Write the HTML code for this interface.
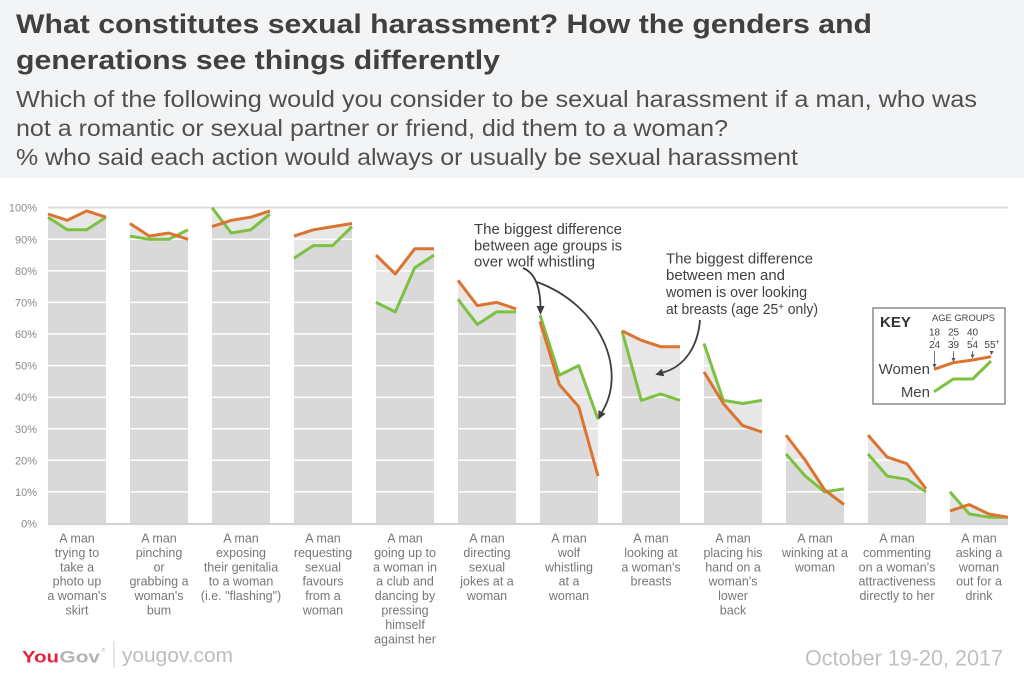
<!DOCTYPE html>
<html>
<head>
<meta charset="utf-8">
<style>
  html, body { margin:0; padding:0; background:#ffffff; }
  body { width:1024px; height:675px; overflow:hidden; }
  svg { display:block; }
  text { font-family: "Liberation Sans", sans-serif; }
</style>
</head>
<body>
<svg width="1024" height="675" viewBox="0 0 1024 675" xmlns="http://www.w3.org/2000/svg">
  <!-- header -->
  <rect x="0" y="0" width="1024" height="178" fill="#f3f4f6"/>
  <text x="16" y="33" font-size="27" font-weight="bold" fill="#404040" textLength="856" lengthAdjust="spacingAndGlyphs">What constitutes sexual harassment? How the genders and</text>
  <text x="16" y="69" font-size="27" font-weight="bold" fill="#404040" textLength="484" lengthAdjust="spacingAndGlyphs">generations see things differently</text>
  <text x="16" y="107" font-size="23" fill="#505050" textLength="961" lengthAdjust="spacingAndGlyphs">Which of the following would you consider to be sexual harassment if a man, who was</text>
  <text x="16" y="136" font-size="23" fill="#505050" textLength="712" lengthAdjust="spacingAndGlyphs">not a romantic or sexual partner or friend, did them to a woman?</text>
  <text x="16" y="165" font-size="23" fill="#505050" textLength="782" lengthAdjust="spacingAndGlyphs">% who said each action would always or usually be sexual harassment</text>

  <defs>
    <clipPath id="cg0"><polygon points="48,217.2 67.3,229.8 86.7,229.8 106,217.2 106,523.5 48,523.5"/></clipPath>
    <clipPath id="cg1"><polygon points="130,236.1 149.3,239.3 168.7,239.3 188,229.8 188,523.5 130,523.5"/></clipPath>
    <clipPath id="cg2"><polygon points="212,207.7 231.3,233.0 250.7,229.8 270,214.0 270,523.5 212,523.5"/></clipPath>
    <clipPath id="cg3"><polygon points="294,258.2 313.3,245.6 332.7,245.6 352,226.6 352,523.5 294,523.5"/></clipPath>
    <clipPath id="cg4"><polygon points="376,302.4 395.3,311.9 414.7,267.7 434,255.1 434,523.5 376,523.5"/></clipPath>
    <clipPath id="cg5"><polygon points="458,299.3 477.3,324.5 496.7,311.9 516,311.9 516,523.5 458,523.5"/></clipPath>
    <clipPath id="cg6"><polygon points="540,315.1 559.3,375.1 578.7,365.6 598,419.3 598,523.5 540,523.5"/></clipPath>
    <clipPath id="cg7"><polygon points="622,330.9 641.3,400.3 660.7,394.0 680,400.3 680,523.5 622,523.5"/></clipPath>
    <clipPath id="cg8"><polygon points="704,343.5 723.3,400.3 742.7,403.5 762,400.3 762,523.5 704,523.5"/></clipPath>
    <clipPath id="cg9"><polygon points="786,454.0 805.3,476.1 824.7,491.9 844,488.8 844,523.5 786,523.5"/></clipPath>
    <clipPath id="cg10"><polygon points="868,454.0 887.3,476.1 906.7,479.3 926,491.9 926,523.5 868,523.5"/></clipPath>
    <clipPath id="cg11"><polygon points="950,491.9 969.3,514.0 988.7,517.2 1008,517.2 1008,523.5 950,523.5"/></clipPath>
  </defs>

  <!-- bars: light = union, dark = intersection -->
  <g fill="#e7e7e7">
    <polygon points="48,214.0 67.3,220.3 86.7,210.9 106,217.2 106,523.5 48,523.5"/>
    <polygon points="48,217.2 67.3,229.8 86.7,229.8 106,217.2 106,523.5 48,523.5"/>
    <polygon points="130,223.5 149.3,236.1 168.7,233.0 188,239.3 188,523.5 130,523.5"/>
    <polygon points="130,236.1 149.3,239.3 168.7,239.3 188,229.8 188,523.5 130,523.5"/>
    <polygon points="212,226.6 231.3,220.3 250.7,217.2 270,210.9 270,523.5 212,523.5"/>
    <polygon points="212,207.7 231.3,233.0 250.7,229.8 270,214.0 270,523.5 212,523.5"/>
    <polygon points="294,236.1 313.3,229.8 332.7,226.6 352,223.5 352,523.5 294,523.5"/>
    <polygon points="294,258.2 313.3,245.6 332.7,245.6 352,226.6 352,523.5 294,523.5"/>
    <polygon points="376,255.1 395.3,274.0 414.7,248.8 434,248.8 434,523.5 376,523.5"/>
    <polygon points="376,302.4 395.3,311.9 414.7,267.7 434,255.1 434,523.5 376,523.5"/>
    <polygon points="458,280.3 477.3,305.6 496.7,302.4 516,308.8 516,523.5 458,523.5"/>
    <polygon points="458,299.3 477.3,324.5 496.7,311.9 516,311.9 516,523.5 458,523.5"/>
    <polygon points="540,321.4 559.3,384.5 578.7,406.7 598,476.1 598,523.5 540,523.5"/>
    <polygon points="540,315.1 559.3,375.1 578.7,365.6 598,419.3 598,523.5 540,523.5"/>
    <polygon points="622,330.9 641.3,340.3 660.7,346.7 680,346.7 680,523.5 622,523.5"/>
    <polygon points="622,330.9 641.3,400.3 660.7,394.0 680,400.3 680,523.5 622,523.5"/>
    <polygon points="704,371.9 723.3,403.5 742.7,425.6 762,431.9 762,523.5 704,523.5"/>
    <polygon points="704,343.5 723.3,400.3 742.7,403.5 762,400.3 762,523.5 704,523.5"/>
    <polygon points="786,435.1 805.3,460.3 824.7,490.0 844,504.6 844,523.5 786,523.5"/>
    <polygon points="786,454.0 805.3,476.1 824.7,491.9 844,488.8 844,523.5 786,523.5"/>
    <polygon points="868,435.1 887.3,457.2 906.7,463.5 926,488.8 926,523.5 868,523.5"/>
    <polygon points="868,454.0 887.3,476.1 906.7,479.3 926,491.9 926,523.5 868,523.5"/>
    <polygon points="950,510.9 969.3,504.6 988.7,514.0 1008,517.2 1008,523.5 950,523.5"/>
    <polygon points="950,491.9 969.3,514.0 988.7,517.2 1008,517.2 1008,523.5 950,523.5"/>
  </g>
  <g fill="#d9d9d9">
    <polygon clip-path="url(#cg0)" points="48,214.0 67.3,220.3 86.7,210.9 106,217.2 106,523.5 48,523.5"/>
    <polygon clip-path="url(#cg1)" points="130,223.5 149.3,236.1 168.7,233.0 188,239.3 188,523.5 130,523.5"/>
    <polygon clip-path="url(#cg2)" points="212,226.6 231.3,220.3 250.7,217.2 270,210.9 270,523.5 212,523.5"/>
    <polygon clip-path="url(#cg3)" points="294,236.1 313.3,229.8 332.7,226.6 352,223.5 352,523.5 294,523.5"/>
    <polygon clip-path="url(#cg4)" points="376,255.1 395.3,274.0 414.7,248.8 434,248.8 434,523.5 376,523.5"/>
    <polygon clip-path="url(#cg5)" points="458,280.3 477.3,305.6 496.7,302.4 516,308.8 516,523.5 458,523.5"/>
    <polygon clip-path="url(#cg6)" points="540,321.4 559.3,384.5 578.7,406.7 598,476.1 598,523.5 540,523.5"/>
    <polygon clip-path="url(#cg7)" points="622,330.9 641.3,340.3 660.7,346.7 680,346.7 680,523.5 622,523.5"/>
    <polygon clip-path="url(#cg8)" points="704,371.9 723.3,403.5 742.7,425.6 762,431.9 762,523.5 704,523.5"/>
    <polygon clip-path="url(#cg9)" points="786,435.1 805.3,460.3 824.7,490.0 844,504.6 844,523.5 786,523.5"/>
    <polygon clip-path="url(#cg10)" points="868,435.1 887.3,457.2 906.7,463.5 926,488.8 926,523.5 868,523.5"/>
    <polygon clip-path="url(#cg11)" points="950,510.9 969.3,504.6 988.7,514.0 1008,517.2 1008,523.5 950,523.5"/>
  </g>

  <!-- gridlines -->
  <g stroke="#ffffff" stroke-width="1.5">
    <line x1="40" y1="491.9" x2="1010" y2="491.9"/>
    <line x1="40" y1="460.3" x2="1010" y2="460.3"/>
    <line x1="40" y1="428.8" x2="1010" y2="428.8"/>
    <line x1="40" y1="397.2" x2="1010" y2="397.2"/>
    <line x1="40" y1="365.6" x2="1010" y2="365.6"/>
    <line x1="40" y1="334.0" x2="1010" y2="334.0"/>
    <line x1="40" y1="302.4" x2="1010" y2="302.4"/>
    <line x1="40" y1="270.9" x2="1010" y2="270.9"/>
    <line x1="40" y1="239.3" x2="1010" y2="239.3"/>
  </g>
  <line x1="48" y1="207.5" x2="1008" y2="207.5" stroke="#dedede" stroke-width="2"/>
  <line x1="48" y1="524" x2="1008" y2="524" stroke="#d2d2d2" stroke-width="2.2"/>

  <!-- y labels -->
  <g font-size="11" fill="#8a8a8a" text-anchor="end">
    <text x="37" y="527.5">0%</text>
    <text x="37" y="495.9">10%</text>
    <text x="37" y="464.3">20%</text>
    <text x="37" y="432.8">30%</text>
    <text x="37" y="401.2">40%</text>
    <text x="37" y="369.6">50%</text>
    <text x="37" y="338">60%</text>
    <text x="37" y="306.4">70%</text>
    <text x="37" y="274.9">80%</text>
    <text x="37" y="243.3">90%</text>
    <text x="37" y="211.7">100%</text>
  </g>

  <!-- series lines -->
  <g fill="none" stroke="#7cc142" stroke-width="3" stroke-linejoin="round">
    <polyline points="48,217.2 67.3,229.8 86.7,229.8 106,217.2"/>
    <polyline points="130,236.1 149.3,239.3 168.7,239.3 188,229.8"/>
    <polyline points="212,207.7 231.3,233.0 250.7,229.8 270,214.0"/>
    <polyline points="294,258.2 313.3,245.6 332.7,245.6 352,226.6"/>
    <polyline points="376,302.4 395.3,311.9 414.7,267.7 434,255.1"/>
    <polyline points="458,299.3 477.3,324.5 496.7,311.9 516,311.9"/>
    <polyline points="540,315.1 559.3,375.1 578.7,365.6 598,419.3"/>
    <polyline points="622,330.9 641.3,400.3 660.7,394.0 680,400.3"/>
    <polyline points="704,343.5 723.3,400.3 742.7,403.5 762,400.3"/>
    <polyline points="786,454.0 805.3,476.1 824.7,491.9 844,488.8"/>
    <polyline points="868,454.0 887.3,476.1 906.7,479.3 926,491.9"/>
    <polyline points="950,491.9 969.3,514.0 988.7,517.2 1008,517.2"/>
  </g>
  <g fill="none" stroke="#db7431" stroke-width="3" stroke-linejoin="round">
    <polyline points="48,214.0 67.3,220.3 86.7,210.9 106,217.2"/>
    <polyline points="130,223.5 149.3,236.1 168.7,233.0 188,239.3"/>
    <polyline points="212,226.6 231.3,220.3 250.7,217.2 270,210.9"/>
    <polyline points="294,236.1 313.3,229.8 332.7,226.6 352,223.5"/>
    <polyline points="376,255.1 395.3,274.0 414.7,248.8 434,248.8"/>
    <polyline points="458,280.3 477.3,305.6 496.7,302.4 516,308.8"/>
    <polyline points="540,321.4 559.3,384.5 578.7,406.7 598,476.1"/>
    <polyline points="622,330.9 641.3,340.3 660.7,346.7 680,346.7"/>
    <polyline points="704,371.9 723.3,403.5 742.7,425.6 762,431.9"/>
    <polyline points="786,435.1 805.3,460.3 824.7,490.0 844,504.6"/>
    <polyline points="868,435.1 887.3,457.2 906.7,463.5 926,488.8"/>
    <polyline points="950,510.9 969.3,504.6 988.7,514.0 1008,517.2"/>
  </g>

  <!-- annotations -->
  <g font-size="14.5" fill="#404040">
    <text x="474" y="234" textLength="148" lengthAdjust="spacingAndGlyphs">The biggest difference</text>
    <text x="474" y="250.5" textLength="148" lengthAdjust="spacingAndGlyphs">between age groups is</text>
    <text x="474" y="266.5" textLength="121" lengthAdjust="spacingAndGlyphs">over wolf whistling</text>
    <text x="666" y="263.5" textLength="147" lengthAdjust="spacingAndGlyphs">The biggest difference</text>
    <text x="666" y="280" textLength="119" lengthAdjust="spacingAndGlyphs">between men and</text>
    <text x="666" y="297" textLength="141" lengthAdjust="spacingAndGlyphs">women is over looking</text>
    <text x="666" y="314" textLength="152" lengthAdjust="spacingAndGlyphs">at breasts (age 25<tspan font-size="10" dy="-4">+</tspan><tspan dy="4"> only)</tspan></text>
  </g>
  <g fill="none" stroke="#3d3d3d" stroke-width="1.8">
    <path d="M523,268 Q540,275 540.5,307"/>
    <path d="M537,282 C600,305 628,370 602,412"/>
    <path d="M700,320 C698,345 686,366 663,372.5"/>
  </g>
  <g fill="#3d3d3d">
    <polygon points="536.5,306 544.5,306 540.5,315"/>
    <polygon points="605.6,413.8 598.4,410.2 598.4,419.5"/>
    <polygon points="664.2,376.3 661.8,368.7 655.3,374.8"/>
  </g>

  <!-- key -->
  <rect x="873" y="308" width="132" height="96" fill="#ffffff" stroke="#8a8a8a" stroke-width="1.5"/>
  <text x="880" y="327" font-size="15" font-weight="bold" fill="#333">KEY</text>
  <text x="932" y="321" font-size="9.5" fill="#444" textLength="63" lengthAdjust="spacingAndGlyphs">AGE GROUPS</text>
  <g font-size="10" fill="#444" text-anchor="middle">
    <text x="934.5" y="335.5">18</text>
    <text x="934.5" y="348">24</text>
    <text x="953.5" y="335.5">25</text>
    <text x="953.5" y="348">39</text>
    <text x="972.5" y="335.5">40</text>
    <text x="972.5" y="348">54</text>
    <text x="992" y="348">55<tspan font-size="7" dy="-4">+</tspan></text>
  </g>
  <g stroke="#555" stroke-width="0.8">
    <line x1="934.5" y1="337.5" x2="934.5" y2="339.5"/>
    <line x1="953.5" y1="337.5" x2="953.5" y2="339.5"/>
    <line x1="972.5" y1="337.5" x2="972.5" y2="339.5"/>
    <line x1="934.5" y1="351" x2="934.5" y2="365"/>
    <line x1="953.5" y1="351" x2="953.5" y2="359"/>
    <line x1="972.5" y1="351" x2="972.5" y2="355.5"/>
  </g>
  <g fill="#555">
    <polygon points="932.5,364 936.5,364 934.5,368"/>
    <polygon points="951.5,358 955.5,358 953.5,362"/>
    <polygon points="970.5,354.5 974.5,354.5 972.5,358.5"/>
    <polygon points="989.5,351 993.5,351 991.5,355"/>
  </g>
  <polyline points="934,369.3 953.3,362.7 972.7,360 991,356.7" fill="none" stroke="#db7431" stroke-width="3" stroke-linejoin="round"/>
  <polyline points="934,391.7 953.3,379 972.7,379 991,361" fill="none" stroke="#7cc142" stroke-width="3" stroke-linejoin="round"/>
  <text x="930" y="374" font-size="15" fill="#444" text-anchor="end">Women</text>
  <text x="930" y="397" font-size="15" fill="#444" text-anchor="end">Men</text>

  <!-- category labels -->
  <g font-size="12.5" fill="#777777" text-anchor="middle">
    <text x="77" y="542.5"><tspan x="77">A man</tspan><tspan x="77" dy="14.4">trying to</tspan><tspan x="77" dy="14.4">take a</tspan><tspan x="77" dy="14.4">photo up</tspan><tspan x="77" dy="14.4">a woman's</tspan><tspan x="77" dy="14.4">skirt</tspan></text>
    <text x="159" y="542.5"><tspan x="159">A man</tspan><tspan x="159" dy="14.4">pinching</tspan><tspan x="159" dy="14.4">or</tspan><tspan x="159" dy="14.4">grabbing a</tspan><tspan x="159" dy="14.4">woman's</tspan><tspan x="159" dy="14.4">bum</tspan></text>
    <text x="241" y="542.5"><tspan x="241">A man</tspan><tspan x="241" dy="14.4">exposing</tspan><tspan x="241" dy="14.4">their genitalia</tspan><tspan x="241" dy="14.4">to a woman</tspan><tspan x="241" dy="14.4">(i.e. "flashing")</tspan></text>
    <text x="323" y="542.5"><tspan x="323">A man</tspan><tspan x="323" dy="14.4">requesting</tspan><tspan x="323" dy="14.4">sexual</tspan><tspan x="323" dy="14.4">favours</tspan><tspan x="323" dy="14.4">from a</tspan><tspan x="323" dy="14.4">woman</tspan></text>
    <text x="405" y="542.5"><tspan x="405">A man</tspan><tspan x="405" dy="14.4">going up to</tspan><tspan x="405" dy="14.4">a woman in</tspan><tspan x="405" dy="14.4">a club and</tspan><tspan x="405" dy="14.4">dancing by</tspan><tspan x="405" dy="14.4">pressing</tspan><tspan x="405" dy="14.4">himself</tspan><tspan x="405" dy="14.4">against her</tspan></text>
    <text x="487" y="542.5"><tspan x="487">A man</tspan><tspan x="487" dy="14.4">directing</tspan><tspan x="487" dy="14.4">sexual</tspan><tspan x="487" dy="14.4">jokes at a</tspan><tspan x="487" dy="14.4">woman</tspan></text>
    <text x="569" y="542.5"><tspan x="569">A man</tspan><tspan x="569" dy="14.4">wolf</tspan><tspan x="569" dy="14.4">whistling</tspan><tspan x="569" dy="14.4">at a</tspan><tspan x="569" dy="14.4">woman</tspan></text>
    <text x="651" y="542.5"><tspan x="651">A man</tspan><tspan x="651" dy="14.4">looking at</tspan><tspan x="651" dy="14.4">a woman's</tspan><tspan x="651" dy="14.4">breasts</tspan></text>
    <text x="733" y="542.5"><tspan x="733">A man</tspan><tspan x="733" dy="14.4">placing his</tspan><tspan x="733" dy="14.4">hand on a</tspan><tspan x="733" dy="14.4">woman's</tspan><tspan x="733" dy="14.4">lower</tspan><tspan x="733" dy="14.4">back</tspan></text>
    <text x="815" y="542.5"><tspan x="815">A man</tspan><tspan x="815" dy="14.4">winking at a</tspan><tspan x="815" dy="14.4">woman</tspan></text>
    <text x="897" y="542.5"><tspan x="897">A man</tspan><tspan x="897" dy="14.4">commenting</tspan><tspan x="897" dy="14.4">on a woman's</tspan><tspan x="897" dy="14.4">attractiveness</tspan><tspan x="897" dy="14.4">directly to her</tspan></text>
    <text x="979" y="542.5"><tspan x="979">A man</tspan><tspan x="979" dy="14.4">asking a</tspan><tspan x="979" dy="14.4">woman</tspan><tspan x="979" dy="14.4">out for a</tspan><tspan x="979" dy="14.4">drink</tspan></text>
  </g>

  <!-- footer -->
  <text x="22" y="662.5" font-size="17" font-weight="bold" fill="#e2233c" textLength="37" lengthAdjust="spacingAndGlyphs">You</text>
  <text x="59.5" y="662.5" font-size="17" font-weight="bold" fill="#b3b3b3" textLength="40.5" lengthAdjust="spacingAndGlyphs">Gov</text>
  <text x="101.5" y="652" font-size="5" fill="#b3b3b3">®</text>
  <line x1="114" y1="641" x2="114" y2="668" stroke="#cccccc" stroke-width="1"/>
  <text x="122" y="662" font-size="20" fill="#bdbdbd" textLength="111" lengthAdjust="spacingAndGlyphs">yougov.com</text>
  <text x="805" y="665.5" font-size="22" fill="#c0c0c0" textLength="198" lengthAdjust="spacingAndGlyphs">October 19-20, 2017</text>
</svg>
</body>
</html>
